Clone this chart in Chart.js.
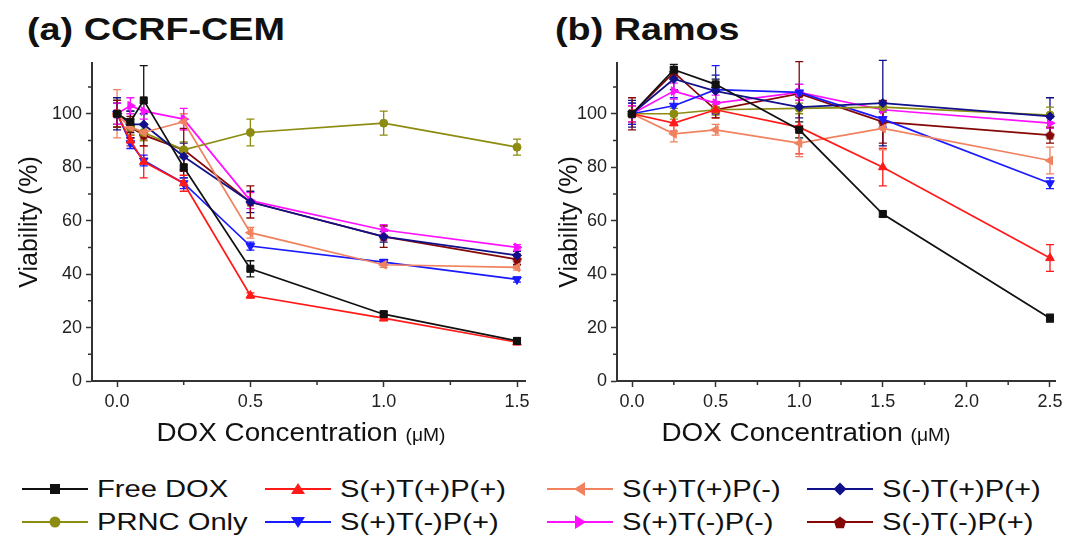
<!DOCTYPE html>
<html>
<head>
<meta charset="utf-8">
<script src="https://cdn.jsdelivr.net/npm/chart.js@4.4.1/dist/chart.umd.min.js"></script>
<style>
  body { margin: 0; background: #fff; width: 1067px; height: 539px; overflow: hidden; position: relative;
         font-family: "Liberation Sans", Arial, sans-serif; color: #111; }
  canvas { position: absolute; top: 0; }
  .ptitle { position: absolute; font-weight: bold; font-size: 32px; line-height: 36px; top: 11px;
            transform: scaleX(1.18); transform-origin: left center; white-space: nowrap; }
  .xtitle { position: absolute; top: 417px; font-size: 26px; line-height: 30px; white-space: nowrap;
            transform: translateX(-50%) scaleX(1.07); color: #111; }
  .xtitle span { font-size: 18px; }
  .leg { position: absolute; font-size: 24.5px; display: flex; align-items: center; white-space: nowrap; }
  .leg svg { margin-right: 9px; }
  .leg span { display: inline-block; transform: scaleX(1.19); transform-origin: left center; }
</style>
</head>
<body>
<div class="ptitle" style="left:27px">(a) CCRF-CEM</div>
<div class="ptitle" style="left:555px">(b) Ramos</div>
<canvas id="chartA" width="535" height="450" style="left:0"></canvas>
<canvas id="chartB" width="532" height="450" style="left:535px"></canvas>
<div class="xtitle" style="left:301px">DOX Concentration <span>(μM)</span></div>
<div class="xtitle" style="left:806px">DOX Concentration <span>(μM)</span></div>
<div id="legend"></div>

<script>
// concentrations (uM)
const xA = [0, 0.05, 0.1, 0.25, 0.5, 1.0, 1.5];
const xB = [0, 0.25, 0.5, 1.0, 1.5, 2.5];
const xTicksA = [0, 0.5, 1.0, 1.5];
const xTicksB = [0, 0.5, 1.0, 1.5, 2.0, 2.5];
const yTicks = [0, 20, 40, 60, 80, 100];

const names = ["Free DOX", "S(+)T(+)P(+)", "S(+)T(+)P(-)", "S(-)T(+)P(+)",
               "PRNC Only", "S(+)T(-)P(+)", "S(+)T(-)P(-)", "S(-)T(-)P(+)"];

// (a) CCRF-CEM viability (%) and error
const freeDoxA = [100, 97, 105, 80, 42, 25, 15];
const freeDoxAErr = [5, 4, 13, 4, 3, 1, 1];
const stppA = [100, 90, 82, 74, 32, 23.5, 14.5];
const stppAErr = [4, 2, 6, 3, 1, 1, 1];
const stpmA = [100, 95, 93, 97, 55.5, 43.5, 42.5];
const stpmAErr = [9, 3, 3, 3, 2, 1, 1];
const smtppA = [100, 96, 96, 84, 67, 54, 47];
const smtppAErr = [6, 5, 4, 5, 4, 2, 1.5];
const prncA = [100, 95, 93, 86.5, 93, 96.5, 87.5];
const prncAErr = [5, 3, 3, 3, 5, 4.5, 3];
const stmpA = [100, 89, 82.5, 74, 50.5, 44.5, 38];
const stmpAErr = [4, 2, 2, 2, 1.5, 1, 1];
const stmmA = [100, 103, 101, 98, 67.5, 56.5, 50];
const stmmAErr = [4, 3, 3, 4, 3, 2, 1];
const smtmpA = [100, 95, 92, 86.5, 67, 54, 45.5];
const smtmpAErr = [5, 4, 4, 8, 6, 4, 2];

// (b) Ramos
const freeDoxB = [100, 116.5, 111, 94, 62.5, 23.5];
const freeDoxBErr = [4, 2, 2, 3, 1, 1.5];
const stppB = [100, 96.5, 101.5, 95, 80, 46];
const stppBErr = [3, 3, 3, 10, 7, 5];
const stpmB = [100, 92.5, 94, 89, 94.5, 82.5];
const stpmBErr = [3, 3, 2, 5, 8, 5];
const smtppB = [100, 113, 108.5, 102.5, 104, 99];
const smtppBErr = [5, 4, 6, 4, 16, 7];
const prncB = [100, 100, 101.5, 102, 102.5, 99.5];
const prncBErr = [3, 2, 2, 2, 2, 3];
const stmpB = [100, 103, 109, 108, 98, 74];
const stmpBErr = [4, 3, 9, 3, 3, 2];
const stmmB = [100, 108.5, 104, 108, 101.5, 96.5];
const stmmBErr = [3, 3, 3, 3, 3, 2];
const smtmpB = [100, 115.5, 101.5, 107.5, 97, 92];
const smtmpBErr = [6, 2, 3, 12, 8, 3];

const colors = ["#111111", "#ff1a1a", "#f0825f", "#10108a", "#8c8c10", "#1a1aff", "#ff10ff", "#850808"];
const markers = ["square", "up", "left", "diamond", "circle", "down", "right", "pentagon"];

const FONT = "'Liberation Sans', Arial, sans-serif";

// pentagon marker for chart points
function pentagonCanvas(color) {
  const c = document.createElement("canvas");
  c.width = 11; c.height = 11;
  const g = c.getContext("2d");
  g.fillStyle = color;
  g.beginPath();
  for (let i = 0; i < 5; i++) {
    const a = -Math.PI / 2 + i * 2 * Math.PI / 5;
    const px = 5.5 + 5 * Math.cos(a), py = 6 + 5 * Math.sin(a);
    i ? g.lineTo(px, py) : g.moveTo(px, py);
  }
  g.closePath();
  g.fill();
  return c;
}

function pointProps(m, color) {
  switch (m) {
    case "square": return { pointStyle: "rect", pointRadius: 5, pointRotation: 0 };
    case "up": return { pointStyle: "triangle", pointRadius: 5, pointRotation: 0 };
    case "down": return { pointStyle: "triangle", pointRadius: 5, pointRotation: 180 };
    case "left": return { pointStyle: "triangle", pointRadius: 5, pointRotation: 270 };
    case "right": return { pointStyle: "triangle", pointRadius: 5, pointRotation: 90 };
    case "diamond": return { pointStyle: "rectRot", pointRadius: 4.5, pointRotation: 0 };
    case "circle": return { pointStyle: "circle", pointRadius: 4, pointRotation: 0 };
    case "pentagon": return { pointStyle: pentagonCanvas(color), pointRadius: 5, pointRotation: 0 };
  }
}

function makeDatasets(xs, series, errs) {
  return series.map(function (vals, i) {
    return Object.assign({
      label: names[i],
      data: vals.map((v, j) => ({ x: xs[j], y: v })),
      err: errs[i],
      borderColor: colors[i],
      backgroundColor: colors[i],
      borderWidth: 1.7,
      pointBorderWidth: 1,
      tension: 0
    }, pointProps(markers[i], colors[i]));
  });
}

// error bars drawn through the y scale
const errorBars = {
  id: "errorBars",
  beforeDatasetsDraw(chart) {
    const ctx = chart.ctx, ys = chart.scales.y;
    chart.data.datasets.forEach(function (ds, i) {
      const meta = chart.getDatasetMeta(i);
      ctx.save();
      ctx.strokeStyle = ds.borderColor;
      ctx.lineWidth = 1.3;
      meta.data.forEach(function (pt, j) {
        const e = ds.err[j];
        if (!e) return;
        const v = ds.data[j].y;
        const top = ys.getPixelForValue(v + e), bot = ys.getPixelForValue(v - e);
        ctx.beginPath();
        ctx.moveTo(pt.x, top); ctx.lineTo(pt.x, bot);
        ctx.moveTo(pt.x - 4, top); ctx.lineTo(pt.x + 4, top);
        ctx.moveTo(pt.x - 4, bot); ctx.lineTo(pt.x + 4, bot);
        ctx.stroke();
      });
      ctx.restore();
    });
  }
};

// minor ticks halfway between majors
const minorTicks = {
  id: "minorTicks",
  afterDraw(chart, args, opts) {
    const ctx = chart.ctx, xs = chart.scales.x, ys = chart.scales.y, a = chart.chartArea;
    ctx.save();
    ctx.strokeStyle = "#333";
    ctx.lineWidth = 1.5;
    ctx.beginPath();
    opts.x.forEach(function (v) {
      const px = xs.getPixelForValue(v);
      ctx.moveTo(px, a.bottom); ctx.lineTo(px, a.bottom + 4);
    });
    opts.y.forEach(function (v) {
      const py = ys.getPixelForValue(v);
      ctx.moveTo(a.left, py); ctx.lineTo(a.left - 4, py);
    });
    ctx.stroke();
    ctx.restore();
  }
};

function makeChart(id, xs, series, errs, xmin, xmax, xticks, minorX, yWidth, titlePad, padRight) {
  return new Chart(document.getElementById(id), {
    type: "line",
    data: { datasets: makeDatasets(xs, series, errs) },
    plugins: [errorBars, minorTicks],
    options: {
      responsive: false,
      animation: false,
      events: [],
      layout: { padding: { top: 63, right: padRight, bottom: 0, left: 0 } },
      plugins: {
        legend: { display: false },
        tooltip: { enabled: false },
        minorTicks: { x: minorX, y: [10, 30, 50, 70, 90, 110] }
      },
      scales: {
        x: {
          type: "linear", min: xmin, max: xmax,
          afterBuildTicks: ax => { ax.ticks = xticks.map(v => ({ value: v })); },
          afterFit: ax => { ax.height = 69; },
          border: { display: true, color: "#333", width: 2 },
          grid: { drawOnChartArea: false, color: "#333", tickLength: 6, tickWidth: 1.5 },
          ticks: { padding: 4, color: "#222", font: { family: FONT, size: 18 },
                   callback: v => v.toFixed(1) }
        },
        y: {
          min: 0, max: 119,
          afterBuildTicks: ax => { ax.ticks = yTicks.map(v => ({ value: v })); },
          afterFit: ax => { ax.width = yWidth; },
          border: { display: true, color: "#333", width: 2 },
          grid: { drawOnChartArea: false, color: "#333", tickLength: 6, tickWidth: 1.5 },
          ticks: { padding: 4, color: "#222", font: { family: FONT, size: 18 } },
          title: { display: true, text: "Viability (%)", color: "#111",
                   font: { family: FONT, size: 25 }, padding: { top: titlePad, bottom: 0 } }
        }
      }
    }
  });
}

makeChart("chartA", xA,
  [freeDoxA, stppA, stpmA, smtppA, prncA, stmpA, stmmA, smtmpA],
  [freeDoxAErr, stppAErr, stpmAErr, smtppAErr, prncAErr, stmpAErr, stmmAErr, smtmpAErr],
  -0.094, 1.53, xTicksA, [0.25, 0.75, 1.25], 92, 15, 10);

makeChart("chartB", xB,
  [freeDoxB, stppB, stpmB, smtppB, prncB, stmpB, stmmB, smtmpB],
  [freeDoxBErr, stppBErr, stpmBErr, smtppBErr, prncBErr, stmpBErr, stmmBErr, smtmpBErr],
  -0.09, 2.53, xTicksB, [0.25, 0.75, 1.25, 1.75, 2.25], 82, 20, 12);

// legend: 4 columns x 2 rows
function markerSvg(m, color) {
  const cx = 33, cy = 10;
  let shape = "";
  if (m === "square") shape = `<rect x="${cx - 5}" y="${cy - 5}" width="10" height="10" fill="${color}"/>`;
  else if (m === "circle") shape = `<circle cx="${cx}" cy="${cy}" r="5.5" fill="${color}"/>`;
  else {
    let pts;
    if (m === "up") pts = [[0, -6], [7, 5], [-7, 5]];
    if (m === "down") pts = [[0, 6], [7, -5], [-7, -5]];
    if (m === "left") pts = [[-6, 0], [5, -7], [5, 7]];
    if (m === "right") pts = [[6, 0], [-5, -7], [-5, 7]];
    if (m === "diamond") pts = [[0, -6.5], [6.5, 0], [0, 6.5], [-6.5, 0]];
    if (m === "pentagon") {
      pts = [];
      for (let i = 0; i < 5; i++) {
        const a = -Math.PI / 2 + i * 2 * Math.PI / 5;
        pts.push([6.5 * Math.cos(a), 1 + 6.5 * Math.sin(a)]);
      }
    }
    shape = `<polygon points="${pts.map(p => (cx + p[0]) + "," + (cy + p[1])).join(" ")}" fill="${color}"/>`;
  }
  return `<svg width="66" height="20"><line x1="0" y1="${cy}" x2="66" y2="${cy}" stroke="${color}" stroke-width="2"/>${shape}</svg>`;
}

const legCols = [22, 265, 547, 807];
const legRows = [489, 522];
const legOrder = [[0, 4], [1, 5], [2, 6], [3, 7]];
let html = "";
legOrder.forEach(function (col, c) {
  col.forEach(function (idx, r) {
    html += `<div class="leg" style="left:${legCols[c]}px;top:${legRows[r] - 14}px;height:28px">` +
            markerSvg(markers[idx], colors[idx]) + `<span>${names[idx]}</span></div>`;
  });
});
document.getElementById("legend").innerHTML = html;
</script>
</body>
</html>
